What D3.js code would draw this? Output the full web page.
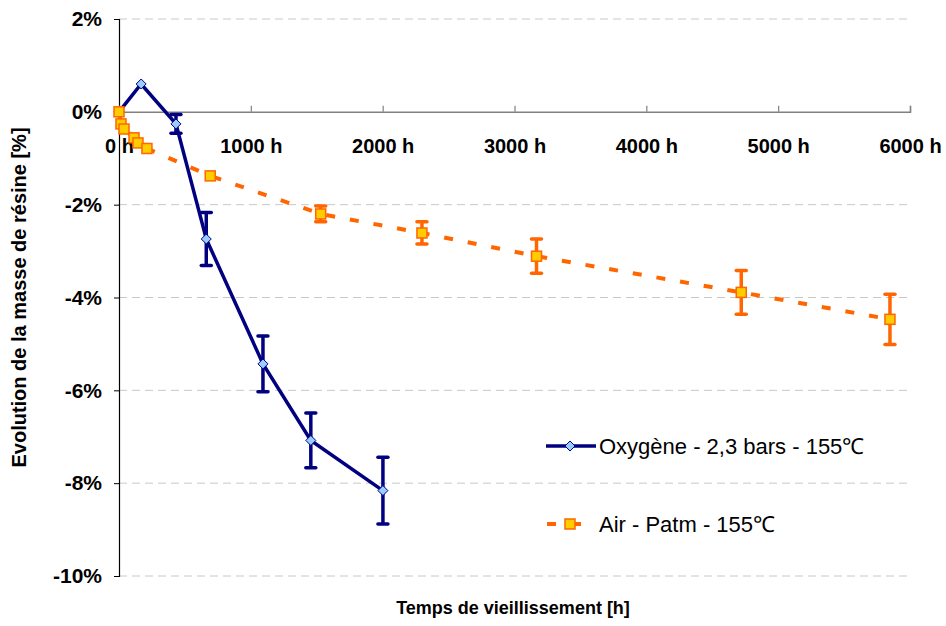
<!DOCTYPE html>
<html>
<head>
<meta charset="utf-8">
<script src="https://cdn.jsdelivr.net/npm/d3@7"></script>
<style>
  body { margin: 0; background: #fff; }
  text { font-family: Arial, "Liberation Sans", sans-serif; }
</style>
</head>
<body>
<div id="chart"></div>
<script>
// Oxygène - 2,3 bars - 155℃
var oxyHours = [0, 168, 432, 662, 1092, 1455, 2002]
var oxyMass = [0, 0.6, -0.26, -2.74, -5.43, -7.08, -8.16]
var oxyErr = [0, 0, 0.2, 0.57, 0.6, 0.59, 0.72]

// Air - Patm - 155℃
var airHours = [0, 15, 38, 114, 144, 212, 692, 1530, 2298, 3167, 4720, 5848]
var airMass = [0, -0.26, -0.37, -0.56, -0.67, -0.79, -1.38, -2.2, -2.61, -3.11, -3.89, -4.47]
var airErr = [0, 0, 0, 0, 0, 0, 0, 0.17, 0.24, 0.37, 0.47, 0.54]

var xTicks = [0, 1000, 2000, 3000, 4000, 5000, 6000]
var yTicks = [2, 0, -2, -4, -6, -8, -10]

const W = 946, H = 626
const plot = { left: 119, right: 910, top: 19, bottom: 576 }

var svg = d3.select("#chart").append("svg")
  .attr("width", W).attr("height", H)

var x = d3.scaleLinear().domain([0, 6000]).range([plot.left, plot.right])
var y = d3.scaleLinear().domain([-10, 2]).range([plot.bottom, plot.top])

var oxy = oxyHours.map((h, i) => ({ h: h, v: oxyMass[i], e: oxyErr[i] }))
var air = airHours.map((h, i) => ({ h: h, v: airMass[i], e: airErr[i] }))

// gridlines
svg.append("g")
  .selectAll("line")
  .data(yTicks.filter(d => d != 0))
  .join("line")
  .attr("x1", plot.left).attr("x2", plot.right)
  .attr("y1", d => y(d)).attr("y2", d => y(d))
  .attr("stroke", "#c8c8c8")
  .attr("stroke-width", 1)
  .attr("stroke-dasharray", "8,5")

// y axis
var yAxis = svg.append("g")
  .attr("transform", `translate(${plot.left},0)`)
  .call(d3.axisLeft(y).tickValues(yTicks).tickSize(5).tickPadding(12).tickFormat(d => d + "%"))
yAxis.select(".domain").attr("stroke", "#000").attr("stroke-width", 1.2)
yAxis.selectAll(".tick line").attr("stroke", "#000")
yAxis.selectAll("text")
  .attr("font-size", 21).attr("font-weight", "bold")
  .attr("font-family", "Arial, 'Liberation Sans', sans-serif")
  .attr("fill", "#000")

// x axis along 0%
var xAxis = svg.append("g")
  .attr("transform", `translate(0,${y(0)})`)
  .call(d3.axisTop(x).tickValues(xTicks).tickSize(6).tickFormat(d => d + " h"))
xAxis.select(".domain").attr("stroke", "#808080").attr("stroke-width", 1.5)
xAxis.selectAll(".tick line").attr("stroke", "#808080").attr("stroke-width", 1.2)
xAxis.selectAll("text")
  .attr("y", 41)
  .attr("font-size", 20).attr("font-weight", "bold")
  .attr("font-family", "Arial, 'Liberation Sans', sans-serif")
  .attr("fill", "#000")

// axis titles
svg.append("text")
  .attr("x", 513).attr("y", 614)
  .attr("text-anchor", "middle")
  .attr("font-size", 18).attr("font-weight", "bold")
  .text("Temps de vieillissement [h]")

svg.append("text")
  .attr("transform", `translate(26, ${(plot.top + plot.bottom) / 2}) rotate(-90)`)
  .attr("text-anchor", "middle")
  .attr("font-size", 20).attr("font-weight", "bold")
  .text("Evolution de la masse de résine [%]")

// error bars helper
function errorBars(g, data, color) {
  var d = data.filter(p => p.e > 0)
  g.selectAll(".eb")
    .data(d).join("line").attr("class", "eb")
    .attr("x1", p => x(p.h)).attr("x2", p => x(p.h))
    .attr("y1", p => y(p.v + p.e)).attr("y2", p => y(p.v - p.e))
    .attr("stroke", color).attr("stroke-width", 3.5)
  g.selectAll(".capt")
    .data(d).join("line").attr("class", "capt")
    .attr("x1", p => x(p.h) - 5).attr("x2", p => x(p.h) + 5)
    .attr("y1", p => y(p.v + p.e)).attr("y2", p => y(p.v + p.e))
    .attr("stroke", color).attr("stroke-width", 3.5).attr("stroke-linecap", "round")
  g.selectAll(".capb")
    .data(d).join("line").attr("class", "capb")
    .attr("x1", p => x(p.h) - 5).attr("x2", p => x(p.h) + 5)
    .attr("y1", p => y(p.v - p.e)).attr("y2", p => y(p.v - p.e))
    .attr("stroke", color).attr("stroke-width", 3.5).attr("stroke-linecap", "round")
}

var line = d3.line().x(p => x(p.h)).y(p => y(p.v))

// oxygen series
var gOxy = svg.append("g")
errorBars(gOxy, oxy, "#000080")
gOxy.append("path")
  .datum(oxy)
  .attr("d", line)
  .attr("fill", "none")
  .attr("stroke", "#000080")
  .attr("stroke-width", 3.5)
gOxy.selectAll(".mk")
  .data(oxy).join("path").attr("class", "mk")
  .attr("transform", p => `translate(${x(p.h)},${y(p.v)})`)
  .attr("d", "M0,-5L5,0L0,5L-5,0Z")
  .attr("fill", "#99ccff")
  .attr("stroke", "#000080").attr("stroke-width", 1)

// air series
var gAir = svg.append("g")
errorBars(gAir, air, "#ff6600")
gAir.append("path")
  .datum(air)
  .attr("d", line)
  .attr("fill", "none")
  .attr("stroke", "#ff6600")
  .attr("stroke-width", 4)
  .attr("stroke-dasharray", "9,15")
gAir.selectAll(".mk")
  .data(air).join("rect").attr("class", "mk")
  .attr("x", p => x(p.h) - 5).attr("y", p => y(p.v) - 5)
  .attr("width", 10).attr("height", 10)
  .attr("fill", "#ffcc00")
  .attr("stroke", "#ff6600").attr("stroke-width", 1.5)

// legend
var leg = svg.append("g")
leg.append("line")
  .attr("x1", 546).attr("x2", 596).attr("y1", 446).attr("y2", 446)
  .attr("stroke", "#000080").attr("stroke-width", 3.5)
leg.append("path")
  .attr("transform", "translate(570,446)")
  .attr("d", "M0,-5L5,0L0,5L-5,0Z")
  .attr("fill", "#99ccff").attr("stroke", "#000080").attr("stroke-width", 1)
leg.append("text")
  .attr("x", 599).attr("y", 454)
  .attr("font-size", 22)
  .text("Oxygène - 2,3 bars - 155℃")

leg.append("line")
  .attr("x1", 547).attr("x2", 556).attr("y1", 524).attr("y2", 524)
  .attr("stroke", "#ff6600").attr("stroke-width", 4)
leg.append("line")
  .attr("x1", 574).attr("x2", 581).attr("y1", 524).attr("y2", 524)
  .attr("stroke", "#ff6600").attr("stroke-width", 4)
leg.append("rect")
  .attr("x", 565).attr("y", 519).attr("width", 10).attr("height", 10)
  .attr("fill", "#ffcc00").attr("stroke", "#ff6600").attr("stroke-width", 1.5)
leg.append("text")
  .attr("x", 599).attr("y", 532)
  .attr("font-size", 22)
  .text("Air - Patm - 155℃")
</script>
</body>
</html>
